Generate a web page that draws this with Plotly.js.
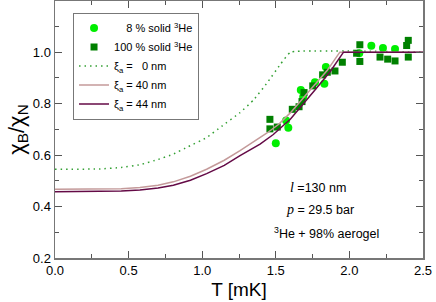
<!DOCTYPE html>
<html><head><meta charset="utf-8">
<script src="https://cdn.plot.ly/plotly-3.0.1.min.js"></script>
<style>html,body{margin:0;padding:0;background:#fff}#plot{width:436px;height:302px}</style>
</head><body><div id="plot"></div>
<script>
// 8 % solid 3He (circles)
const t8 = [1.50, 1.57, 1.585, 1.67, 1.686, 1.766, 1.83, 1.84, 2.067, 2.149, 2.228, 2.31];
const chi8 = [0.646, 0.734, 0.706, 0.853, 0.827, 0.883, 0.877, 0.942, 0.996, 1.025, 1.016, 1.012];
// 100 % solid 3He (squares)
const t100 = [1.46, 1.46, 1.51, 1.612, 1.658, 1.678, 1.692, 1.751, 1.818, 1.85, 1.902, 1.952, 2.049, 2.071, 2.071, 2.208, 2.26, 2.31, 2.389, 2.40, 2.40];
const chi100 = [0.739, 0.702, 0.709, 0.778, 0.788, 0.808, 0.843, 0.869, 0.912, 0.922, 0.927, 0.961, 0.996, 1.029, 0.964, 0.981, 0.973, 0.966, 1.026, 1.046, 0.981];
// theory, xi_a = 0 nm
const tXi0 = [0, 0.3, 0.45, 0.58, 0.7, 0.8, 0.906, 1.03, 1.132, 1.257, 1.35, 1.44, 1.53, 1.6, 2.5];
const chiXi0 = [0.545, 0.546, 0.552, 0.563, 0.583, 0.603, 0.633, 0.668, 0.712, 0.765, 0.815, 0.88, 0.952, 1.0, 1.0];
// theory, xi_a = 40 nm
const tXi40 = [0, 0.3, 0.45, 0.577, 0.7, 0.804, 0.92, 1.03, 1.15, 1.257, 1.35, 1.438, 1.52, 1.6, 1.733, 1.85, 1.935, 2.5];
const chiXi40 = [0.467, 0.467, 0.469, 0.474, 0.483, 0.496, 0.518, 0.545, 0.58, 0.617, 0.652, 0.685, 0.72, 0.765, 0.853, 0.93, 1.0, 1.0];
// theory, xi_a = 44 nm
const tXi44 = [0, 0.3, 0.45, 0.577, 0.7, 0.804, 0.92, 1.03, 1.15, 1.257, 1.393, 1.483, 1.6, 1.766, 1.87, 1.96, 2.5];
const chiXi44 = [0.458, 0.458, 0.460, 0.464, 0.472, 0.483, 0.502, 0.528, 0.56, 0.598, 0.643, 0.68, 0.74, 0.853, 0.925, 1.0, 1.0];

const NB = '\u00a0';
const traces = [
  {x: t8, y: chi8, mode: 'markers', type: 'scatter', name: NB+NB+NB+NB+'8 % solid <sup>3</sup>He',
   marker: {symbol: 'circle', size: 8, color: '#00ee00', line: {width: 0}}},
  {x: t100, y: chi100, mode: 'markers', type: 'scatter', name: '100 % solid <sup>3</sup>He',
   marker: {symbol: 'square', size: 7, color: '#008000', line: {width: 0}}},
  {x: tXi0, y: chiXi0, mode: 'lines', type: 'scatter', name: 'ξ<sub>a</sub> ='+NB+NB+NB+'0 nm',
   line: {color: '#33a033', width: 1.5, dash: '1.5px,4px', shape: 'spline', smoothing: 0.3}},
  {x: tXi40, y: chiXi40, mode: 'lines', type: 'scatter', name: 'ξ<sub>a</sub> = 40 nm',
   line: {color: '#c49a9a', width: 1.5}},
  {x: tXi44, y: chiXi44, mode: 'lines', type: 'scatter', name: 'ξ<sub>a</sub> = 44 nm',
   line: {color: '#640a46', width: 1.5}}
];

const axisCommon = {
  showline: true, mirror: 'allticks', linecolor: '#777', linewidth: 1.5,
  ticks: 'inside', ticklen: 7, tickcolor: '#555', tickwidth: 1,
  showgrid: false, zeroline: false,
  tickfont: {family: 'Liberation Sans, Arial, sans-serif', size: 13, color: '#000'}
};

const layout = {
  width: 436, height: 302,
  margin: {l: 55, r: 13, t: 1, b: 44},
  paper_bgcolor: '#fff', plot_bgcolor: '#fff',
  font: {family: 'Liberation Sans, Arial, sans-serif', color: '#000'},
  showlegend: true,
  legend: {x: 0.049, y: 0.955, xanchor: 'left', yanchor: 'top',
    bordercolor: '#777', borderwidth: 1, bgcolor: '#fff',
    font: {size: 11, color: '#000'}},
  xaxis: Object.assign({}, axisCommon, {
    range: [0, 2.5], dtick: 0.5, tick0: 0, tickformat: '.1f',
    minor: {dtick: 0.25, ticklen: 4, tickcolor: '#555', ticks: 'inside'},
    title: {text: 'T [mK]', font: {size: 19}, standoff: 5}
  }),
  yaxis: Object.assign({}, axisCommon, {
    range: [0.2, 1.199], dtick: 0.2, tick0: 0.2, tickformat: '.1f',
    minor: {dtick: 0.1, ticklen: 4, tickcolor: '#555', ticks: 'inside'},
    title: {text: 'χ<sub>B</sub>/χ<sub>N</sub>', font: {size: 22}, standoff: 2}
  }),
  annotations: [
    {x: 1.79, y: 0.475, xref: 'x', yref: 'y', showarrow: false, xanchor: 'center',
     text: '<i><span style="font-family:Liberation Serif;font-size:14px">l</span></i> =130 nm', font: {size: 12.5}},
    {x: 1.80, y: 0.39, xref: 'x', yref: 'y', showarrow: false, xanchor: 'center',
     text: '<i><span style="font-family:Liberation Serif;font-size:14px">p</span></i> = 29.5 bar', font: {size: 12.5}},
    {x: 1.845, y: 0.296, xref: 'x', yref: 'y', showarrow: false, xanchor: 'center',
     text: '<sup>3</sup>He + 98% aerogel', font: {size: 12.5}}
  ]
};

Plotly.newPlot('plot', traces, layout, {staticPlot: true, displayModeBar: false});
</script>
</body></html>
